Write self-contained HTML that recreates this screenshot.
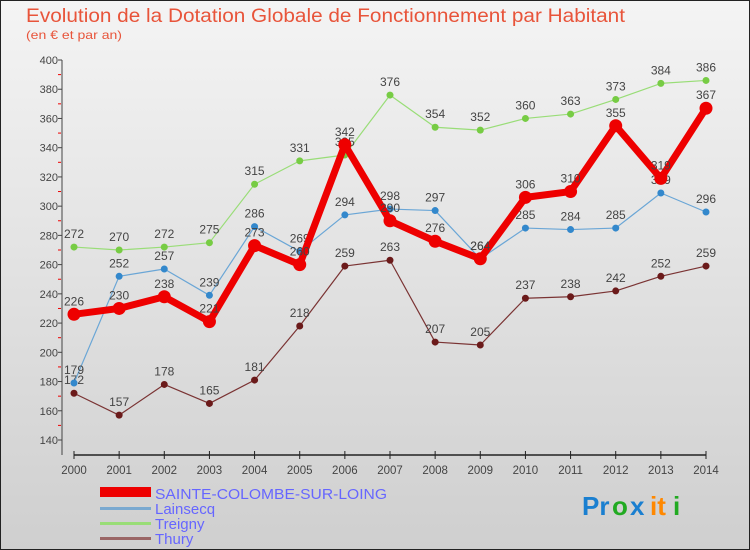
<!DOCTYPE html>
<html><head><meta charset="utf-8"><style>
body{margin:0;}
#c{width:750px;height:550px;position:relative;overflow:hidden;font-family:"Liberation Sans",sans-serif;}
</style></head><body>
<div id="c">
<svg width="750" height="550" xmlns="http://www.w3.org/2000/svg" id="svg">
<defs><linearGradient id="bg" x1="0" y1="0" x2="0" y2="1"><stop offset="0" stop-color="#f4f4f4"/><stop offset="1" stop-color="#cfcfcf"/></linearGradient></defs>
<rect x="0.5" y="0.5" width="749" height="549" fill="url(#bg)" stroke="#222"/>
<text x="26" y="22" font-size="19" fill="#e8543a" textLength="599" lengthAdjust="spacingAndGlyphs">Evolution de la Dotation Globale de Fonctionnement par Habitant</text>
<text x="26" y="39" font-size="12" fill="#e8543a" textLength="96" lengthAdjust="spacingAndGlyphs">(en € et par an)</text>
<g id="grid"></g><g id="axes"></g><g id="series"></g>
<g>
<rect x="100" y="487" width="51" height="10" fill="#ee0000"/>
<text x="155" y="499" font-size="15" fill="#6666ff" textLength="232" lengthAdjust="spacingAndGlyphs">SAINTE-COLOMBE-SUR-LOING</text>
<rect x="100" y="507" width="51" height="3" fill="#7aa9d0"/>
<text x="155" y="514" font-size="15" fill="#6666ff">Lainsecq</text>
<rect x="100" y="522" width="51" height="3" fill="#99dd77"/>
<text x="155" y="529" font-size="15" fill="#6666ff">Treigny</text>
<rect x="100" y="537" width="51" height="3" fill="#9a6666"/>
<text x="155" y="544" font-size="15" fill="#6666ff">Thury</text>
</g>
<g font-size="26" font-weight="bold">
<text x="582" y="515" fill="#1a7fd0">Pr</text><text x="612" y="515" fill="#22aa22">o</text><text x="630" y="515" fill="#1a7fd0">x</text><text x="650" y="515" fill="#ff8800">it</text><text x="673" y="515" fill="#22aa22">i</text>
</g>
</svg>
</div>
<script>
const years=[2000,2001,2002,2003,2004,2005,2006,2007,2008,2009,2010,2011,2012,2013,2014];
const yTicks=[140,160,180,200,220,240,260,280,300,320,340,360,380,400];
const sainte=[226,230,238,221,273,260,342,290,276,264,306,310,355,319,367];
const lainsecq=[179,252,257,239,286,269,294,298,297,264,285,284,285,309,296];
const treigny=[272,270,272,275,315,331,335,376,354,352,360,363,373,384,386];
const thury=[172,157,178,165,181,218,259,263,207,205,237,238,242,252,259];
const NS="http://www.w3.org/2000/svg";
const x=i=>74+i*(632/14);
const y=v=>60+(400-v)*380/260;
function mk(t,a,p){const e=document.createElementNS(NS,t);for(const k in a)e.setAttribute(k,a[k]);p.appendChild(e);return e;}
const axes=document.getElementById('axes');
mk('line',{x1:62,y1:60,x2:62,y2:455,stroke:'#444'},axes);
mk('line',{x1:74,y1:455,x2:706,y2:455,stroke:'#222','stroke-width':1.5},axes);
yTicks.forEach(v=>{
 const t=mk('text',{x:58,y:y(v)+4,'font-size':11,fill:'#444','text-anchor':'end'},axes);t.textContent=v;
 
 
 mk('line',{x1:58,y1:y(v),x2:62,y2:y(v),stroke:'#444'},axes);
 if(v<400) mk('line',{x1:58,y1:y(v+10),x2:61,y2:y(v+10),stroke:'#e00'},axes);
});
years.forEach((yr,i)=>{
 mk('line',{x1:x(i),y1:451,x2:x(i),y2:459,stroke:'#222'},axes);
 const t=mk('text',{x:x(i),y:474,'font-size':11.5,fill:'#444','text-anchor':'middle'},axes);t.textContent=yr;
 
 
});
const sg=document.getElementById('series');
function series(name,data,color,dot,w,r){
 const g=mk('g',{},sg);
 
 
 mk('polyline',{points:data.map((v,i)=>x(i)+','+y(v)).join(' '),fill:'none',stroke:color,'stroke-width':w,'stroke-linejoin':'round'},g);
 data.forEach((v,i)=>{
  const c=mk('circle',{cx:x(i),cy:y(v),r:r,fill:dot},g);
  
  
  const t=mk('text',{x:x(i),y:y(v)-9,'font-size':12,fill:'#444','text-anchor':'middle'},g);t.textContent=v;
  
  
 });
}
series('thury',thury,'#7a3333','#6b1a1a',1.2,3.5);
series('treigny',treigny,'#99dd77','#77cc44',1.2,3.5);
series('lainsecq',lainsecq,'#6aa6d6','#3388cc',1.2,3.5);
series('sainte-colombe',sainte,'#ee0000','#ee0000',7,6.5);
</script>
</body></html>
